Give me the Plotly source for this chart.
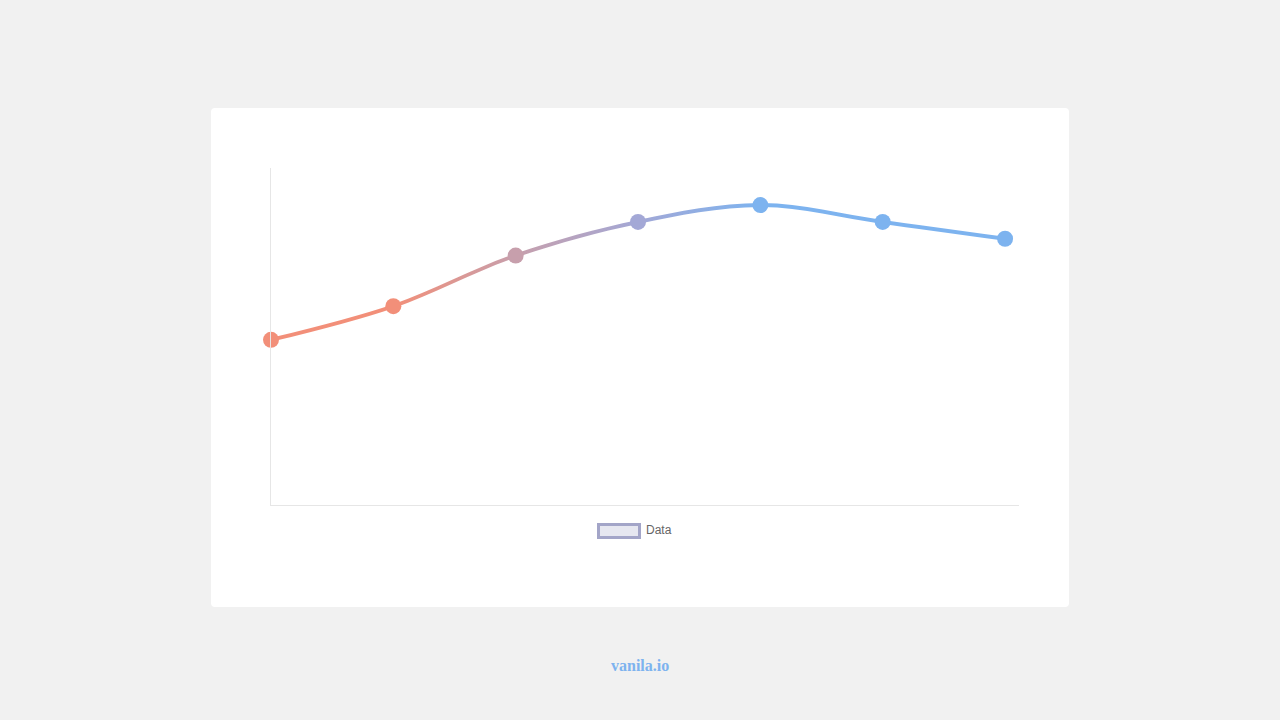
import plotly.graph_objects as go

# ---- data ----
labels = ["1", "2", "3", "4", "5", "6", "7"]
values = [49, 59, 74, 84, 89, 84, 79]
series_name = "Data"

# ---- styling ----
W, H = 1280, 720
PL, PR, PT, PB = 271, 1019, 168, 505  # plot area in px
Y_MIN, Y_MAX = 0, 100
X_MAX = 6.114
LINE_PX = 4.0
SALMON = "#f28f79"
BLUE = "#7db3ef"
colorscale = [[0, SALMON], [0.333, "#c79fac"], [0.667, "#a3a8d6"], [1, BLUE]]

x = list(range(len(labels)))
units_per_px = (Y_MAX - Y_MIN) / (PB - PT)
half = LINE_PX / 2 * units_per_px
y_lo = [v - half for v in values]
y_hi = [v + half for v in values]


def px2x(px):
    return (px - PL) / (PR - PL)


def px2y(py):
    return (PB - py) / (PB - PT)


fig = go.Figure()
fig.add_trace(go.Scatter(x=x, y=y_lo, mode="lines", line=dict(width=0, shape="spline"),
                         hoverinfo="skip", showlegend=False, cliponaxis=False))
fig.add_trace(go.Scatter(x=x, y=y_hi, mode="lines", line=dict(width=0, shape="spline"),
                         fill="tonexty",
                         fillgradient=dict(type="horizontal", colorscale=colorscale, start=1, stop=4),
                         hoverinfo="skip", showlegend=False, cliponaxis=False))
fig.add_trace(go.Scatter(x=x, y=values, mode="markers", name=series_name,
                         marker=dict(size=16, color=x, colorscale=colorscale, cmin=1, cmax=4,
                                     line=dict(width=0)),
                         showlegend=False, cliponaxis=False))

# card (rounded rect)
cx0, cx1, cy0, cy1 = px2x(211), px2x(1069), px2y(607), px2y(108)
rx, ry = 4 / (PR - PL), 4 / (PB - PT)
card = (f"M{cx0+rx},{cy0} L{cx1-rx},{cy0} Q{cx1},{cy0} {cx1},{cy0+ry} "
        f"L{cx1},{cy1-ry} Q{cx1},{cy1} {cx1-rx},{cy1} L{cx0+rx},{cy1} "
        f"Q{cx0},{cy1} {cx0},{cy1-ry} L{cx0},{cy0+ry} Q{cx0},{cy0} {cx0+rx},{cy0} Z")

shapes = [
    dict(type="path", path=card, xref="paper", yref="paper", fillcolor="white",
         line=dict(width=0), layer="below"),
    dict(type="rect", xref="paper", yref="paper", x0=px2x(598.5), x1=px2x(639.5),
         y0=px2y(537.5), y1=px2y(524.5), fillcolor="#e6e7f0", line=dict(color="#a3a5c8", width=3)),
]

annotations = [
    dict(text=series_name, xref="paper", yref="paper", x=px2x(643.5), y=px2y(530),
         xanchor="left", yanchor="middle", showarrow=False,
         font=dict(family="Liberation Sans, Arial", size=12, color="#666666")),
    dict(text="<b>vanila.io</b>", xref="paper", yref="paper", x=px2x(640), y=px2y(665.5),
         xanchor="center", yanchor="middle", showarrow=False,
         font=dict(family="Liberation Serif, Times New Roman, serif", size=16, color=BLUE)),
]

fig.update_layout(
    width=W, height=H,
    margin=dict(l=PL, r=W - PR, t=PT, b=H - PB, pad=0),
    paper_bgcolor="#f1f1f1", plot_bgcolor="white",
    showlegend=False,
    shapes=shapes, annotations=annotations,
    xaxis=dict(range=[0, X_MAX], showline=True, linecolor="#e6e6e6", linewidth=1,
               showgrid=False, zeroline=False, showticklabels=False, ticks=""),
    yaxis=dict(range=[Y_MIN, Y_MAX], showline=True, linecolor="#e6e6e6", linewidth=1,
               showgrid=False, zeroline=False, showticklabels=False, ticks=""),
)

fig.write_html("out.html", config={"displayModeBar": False},
               post_script="document.body.style.margin='0';document.body.style.overflow='hidden';")
